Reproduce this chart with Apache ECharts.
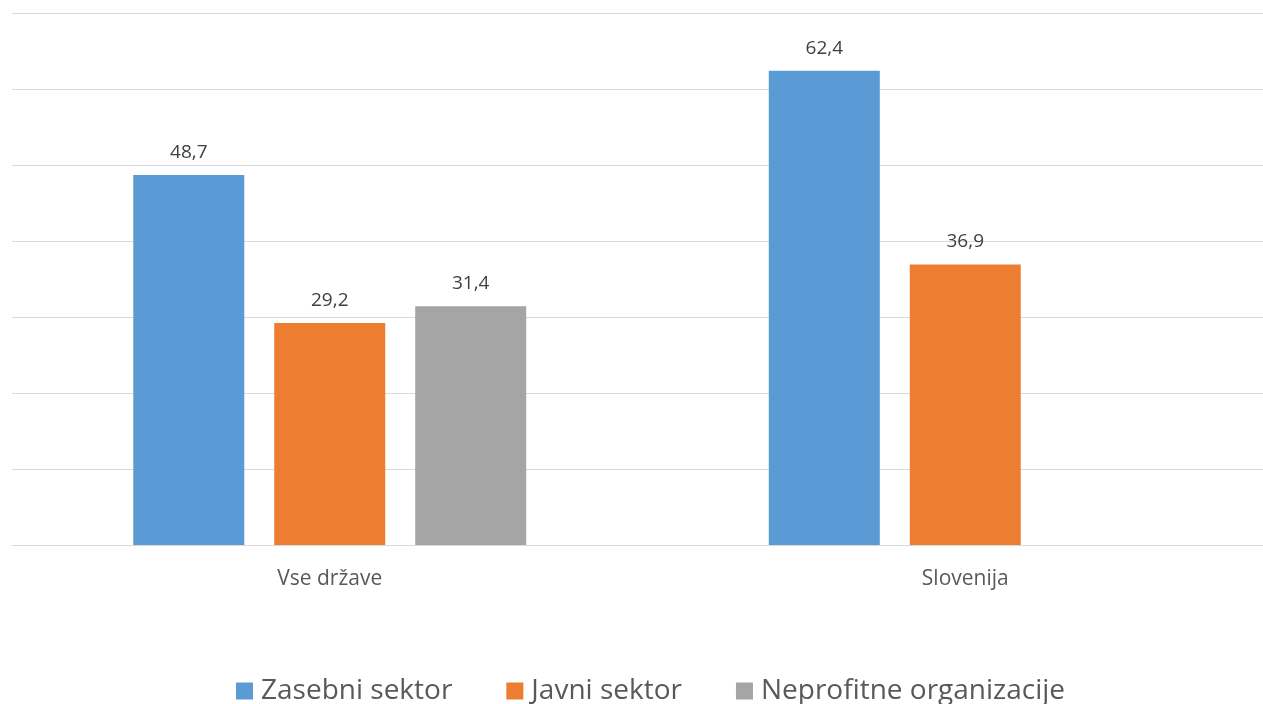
<!DOCTYPE html>
<html>
<head>
<meta charset="utf-8">
<script src="https://cdn.jsdelivr.net/npm/echarts@6/dist/echarts.min.js"></script>
<style>
  html, body { margin: 0; padding: 0; background: #fff; }
  #chart { width: 1263px; height: 704px; }
</style>
</head>
<body>
<div id="chart"></div>
<script>
// kategorije in vrednosti (odstotki)
const categories = ['Vse države', 'Slovenija'];
const seriesNames = ['Zasebni sektor', 'Javni sektor', 'Neprofitne organizacije'];
const zasebni = [48.7, 62.4];
const javni = [29.2, 36.9];
const neprofitne = [31.4, null];

const FONT = '"Open Sans", "DejaVu Sans", sans-serif';
const colors = ['#5B9BD5', '#ED7D31', '#A5A5A5'];
const gridColor = '#D9D9D9';

const chart = echarts.init(document.getElementById('chart'));

function barSeries(name, values, color) {
  return {
    name,
    type: 'bar',
    data: values,
    barWidth: 111,
    barGap: '27%',
    itemStyle: { color },
    label: {
      show: true,
      position: 'top',
      distance: 13,
      color: '#404040',
      fontSize: 19,
      fontFamily: FONT,
      formatter: p => (p.value == null ? '' : String(p.value).replace('.', ',')),
    },
  };
}

chart.setOption({
  animation: false,
  // plot area runs a little past the right edge, as in the original
  grid: { left: 12, width: 1271, top: 13, bottom: 159, outerBoundsMode: 'none' },
  legend: {
    left: 231,
    top: 672,
    itemWidth: 17,
    itemHeight: 17,
    itemGap: 54,
    icon: 'rect',
    textStyle: {
      fontSize: 28,
      color: '#595959',
      fontFamily: FONT,
      padding: [0, 0, 0, 3],
    },
    data: seriesNames,
  },
  xAxis: {
    type: 'category',
    data: categories,
    axisTick: { show: false },
    axisLine: { lineStyle: { color: gridColor, width: 1 } },
    axisLabel: { color: '#595959', fontSize: 21, fontFamily: FONT, margin: 24 },
  },
  yAxis: {
    type: 'value',
    min: 0,
    max: 70,
    interval: 10,
    axisLabel: { show: false },
    axisLine: { show: false },
    axisTick: { show: false },
    splitLine: { lineStyle: { color: gridColor, width: 1 } },
  },
  series: [
    barSeries(seriesNames[0], zasebni, colors[0]),
    barSeries(seriesNames[1], javni, colors[1]),
    barSeries(seriesNames[2], neprofitne, colors[2]),
  ],
});
</script>
</body>
</html>
